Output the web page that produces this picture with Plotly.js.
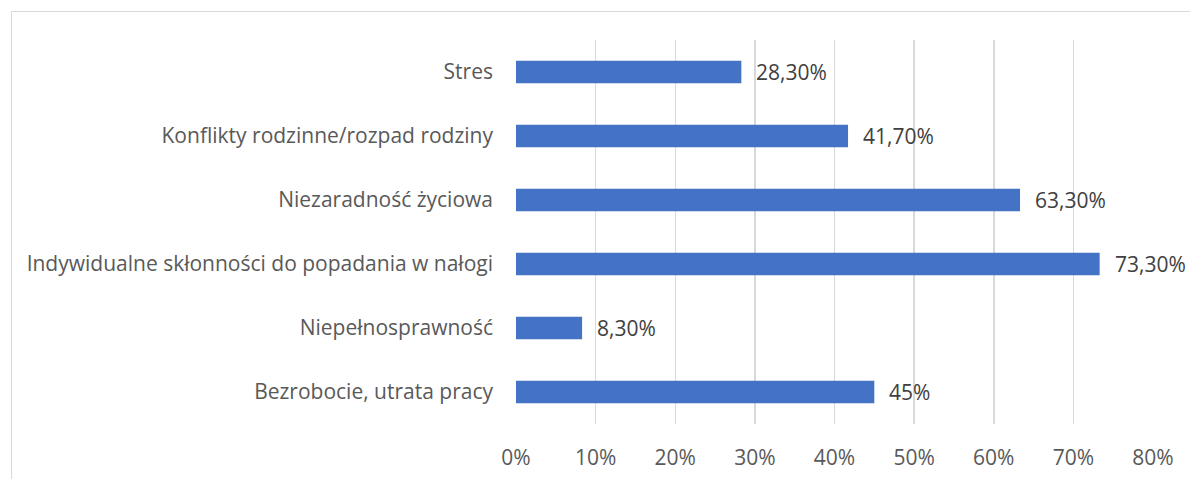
<!DOCTYPE html>
<html>
<head>
<meta charset="utf-8">
<script src="https://cdn.plot.ly/plotly-3.0.1.min.js"></script>
<style>
html,body{margin:0;padding:0;background:#fff;}
#frame{position:absolute;left:11px;top:11px;width:1200px;height:500px;border-left:1.5px solid #d9d9d9;border-top:1.5px solid #d9d9d9;box-sizing:border-box;pointer-events:none;z-index:5;}
#chart{position:absolute;left:0;top:0;width:1190px;height:479px;}
</style>
</head>
<body>
<div id="chart"></div>
<div id="frame"></div>
<script>
var categories = ["Bezrobocie, utrata pracy","Niepełnosprawność","Indywidualne skłonności do popadania w nałogi","Niezaradność życiowa","Konflikty rodzinne/rozpad rodziny","Stres"];
var values = [0.45, 0.083, 0.733, 0.633, 0.417, 0.283];
var valueLabels = ["45%","8,30%","73,30%","63,30%","41,70%","28,30%"];
var tickVals = [0,0.1,0.2,0.3,0.4,0.5,0.6,0.7,0.8];
var tickText = ["0%","10%","20%","30%","40%","50%","60%","70%","80%"];

var fontFam = "'Open Sans', 'Noto Sans', sans-serif";
var fs = 21;
var trace = {
  type:'bar', orientation:'h',
  x: values, y: categories,
  marker:{color:'#4472C4'},
  hoverinfo:'none'
};
var annotations = values.map(function(v,i){
  return {x:v, y:categories[i], xref:'x', yref:'y', text:valueLabels[i], showarrow:false,
    xanchor:'left', yanchor:'middle', xshift:13, yshift:0, font:{family:fontFam,size:fs,color:'#404040'}};
});
var layout = {
  width:1190, height:479,
  margin:{l:516, r:37, t:40, b:55},
  paper_bgcolor:'#fff', plot_bgcolor:'#fff',
  bargap:0.65,
  showlegend:false,
  font:{family:fontFam, size:fs, color:'#595959'},
  xaxis:{range:[0,0.8], tickvals:tickVals, ticktext:tickText, showgrid:true, gridcolor:'#d9d9d9', gridwidth:1.5,
    zeroline:false, showline:false, ticks:'', ticklabelstandoff:19, fixedrange:true,
    tickfont:{family:fontFam,size:fs,color:'#595959'}},
  yaxis:{categoryorder:'array', categoryarray:categories, showgrid:false, zeroline:false, showline:false,
    ticks:'', ticklabelstandoff:22, fixedrange:true,
    tickfont:{family:fontFam,size:fs,color:'#595959'}},
  annotations: annotations
};
Plotly.newPlot('chart',[trace],layout,{displayModeBar:false, staticPlot:true});
</script>
</body>
</html>
